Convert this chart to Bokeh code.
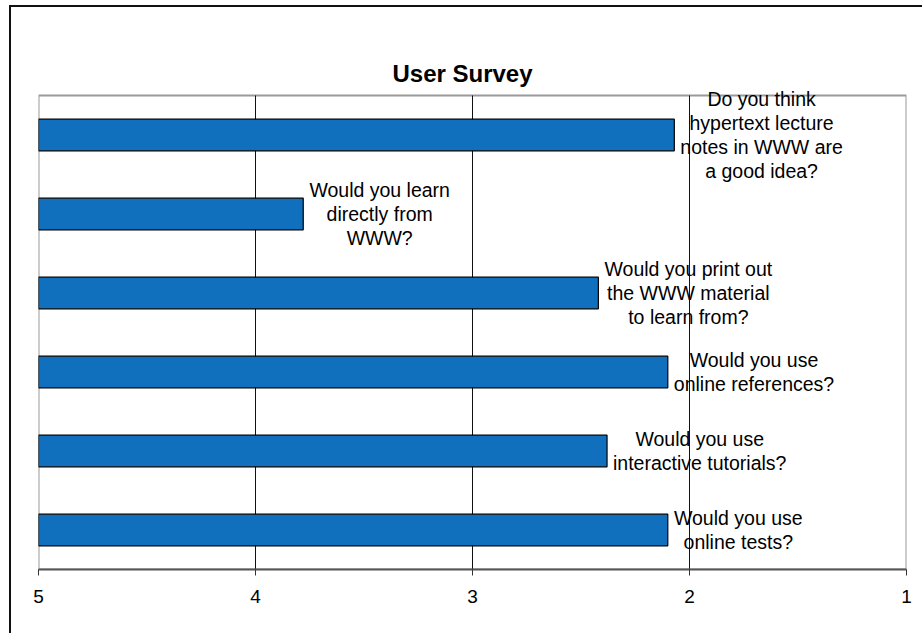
from bokeh.plotting import figure
from bokeh.models import Range1d, FixedTicker, ColumnDataSource, LabelSet, Label
from bokeh.core.properties import value
from bokeh.embed import file_html
from bokeh.resources import INLINE

# ---- data ----
questions = [
    "Do you think\nhypertext lecture\nnotes in WWW are\na good idea?",
    "Would you learn\ndirectly from\nWWW?",
    "Would you print out\nthe WWW material\nto learn from?",
    "Would you use\nonline references?",
    "Would you use\ninteractive tutorials?",
    "Would you use\nonline tests?",
]
scores = [2.07, 3.78, 2.42, 2.10, 2.38, 2.10]
x_ticks = [5, 4, 3, 2, 1]
title_text = "User Survey"

# ---- style helpers ----
FONT = "Liberation Sans"
LABEL_PX = 19.5
LINE_PX = 24
_W = {' ': 278, '?': 556, 'a': 556, 'b': 556, 'c': 500, 'd': 556, 'e': 556, 'f': 278,
      'g': 556, 'h': 556, 'i': 222, 'j': 222, 'k': 500, 'l': 222, 'm': 833, 'n': 556,
      'o': 556, 'p': 556, 'q': 556, 'r': 333, 's': 500, 't': 278, 'u': 556, 'v': 500,
      'w': 722, 'x': 500, 'y': 500, 'z': 500, 'D': 722, 'W': 944}


def text_width(s):
    return max(sum(_W.get(c, 556) for c in line) for line in s.split("\n")) * LABEL_PX / 1000.0


n_cat = len(questions)
ypos = list(range(n_cat, 0, -1))          # category slots, first question on top
y_lo, y_hi = 0.5, n_cat + 0.5             # plot-area extent in category units
x_lo, x_hi = x_ticks[0], x_ticks[-1]
HEAD = 0.696                              # extra room above the plot area for the title

# bar source
src = ColumnDataSource(dict(y=ypos, v=scores, left=[x_lo] * n_cat))

# one label row per text line, each line centred over its label block
ly, lv, lt, lxo, lyo = [], [], [], [], []
for q, v, y in zip(questions, scores, ypos):
    lines = q.split("\n")
    n = len(lines)
    xo = 6 + text_width(q) / 2
    for i, line in enumerate(lines):
        ly.append(y)
        lv.append(v)
        lt.append(line)
        lxo.append(xo)
        lyo.append(((n - 1) / 2 - i) * LINE_PX)
lsrc = ColumnDataSource(dict(y=ly, v=lv, t=lt, xo=lxo, yo=lyo))

p = figure(
    width=913, height=628,
    y_range=Range1d(y_lo, y_hi + HEAD),
    x_range=Range1d(x_lo, x_hi),
    output_backend="svg", toolbar_location=None, tools="",
    y_axis_location=None,
    min_border_left=27, min_border_right=18, min_border_top=33, min_border_bottom=66,
)
p.styles = {"margin-left": "9px", "margin-top": "5px",
            "border-left": "2px solid #111", "border-top": "2px solid #111"}

p.outline_line_color = None
p.background_fill_color = "white"
p.border_fill_color = "white"
p.xgrid.grid_line_color = None
p.ygrid.grid_line_color = None

p.xaxis.ticker = FixedTicker(ticks=x_ticks)
p.xaxis.major_label_text_font = FONT
p.xaxis.major_label_text_font_size = "19px"
p.xaxis.major_label_text_color = "#000000"
p.xaxis.axis_line_color = "#555555"
p.xaxis.axis_line_width = 2
p.xaxis.major_tick_line_color = "#333333"
p.xaxis.major_tick_in = 0
p.xaxis.major_tick_out = 6
p.xaxis.minor_tick_line_color = None
p.xaxis.major_label_standoff = 14

# plot-area border (grey) and vertical gridlines
p.quad(left=x_lo, right=x_hi, bottom=y_lo, top=y_hi,
       fill_color=None, line_color="#999999", line_width=2)
inner = x_ticks[1:-1]
p.segment(x0=inner, y0=[y_lo] * len(inner), x1=inner, y1=[y_hi] * len(inner),
          line_color="#111111", line_width=1)

p.hbar(y="y", left="left", right="v", height=0.4, source=src,
       fill_color="#1070BE", line_color="#000000", line_width=1.2)

labels = LabelSet(x="v", y="y", text="t", source=lsrc, x_offset="xo", y_offset="yo",
                  text_align="center", text_baseline="middle",
                  text_font=value(FONT), text_font_size=value(f"{LABEL_PX}px"),
                  text_color=value("#000000"))
p.add_layout(labels)

p.add_layout(Label(x=(x_lo + x_hi) / 2, y=y_hi, x_offset=-10, y_offset=22,
                   text=title_text, text_align="center", text_baseline="middle",
                   text_font=FONT, text_font_size="24px", text_font_style="bold",
                   text_color="#000000"))

open("out.html", "w").write(file_html(p, INLINE))
